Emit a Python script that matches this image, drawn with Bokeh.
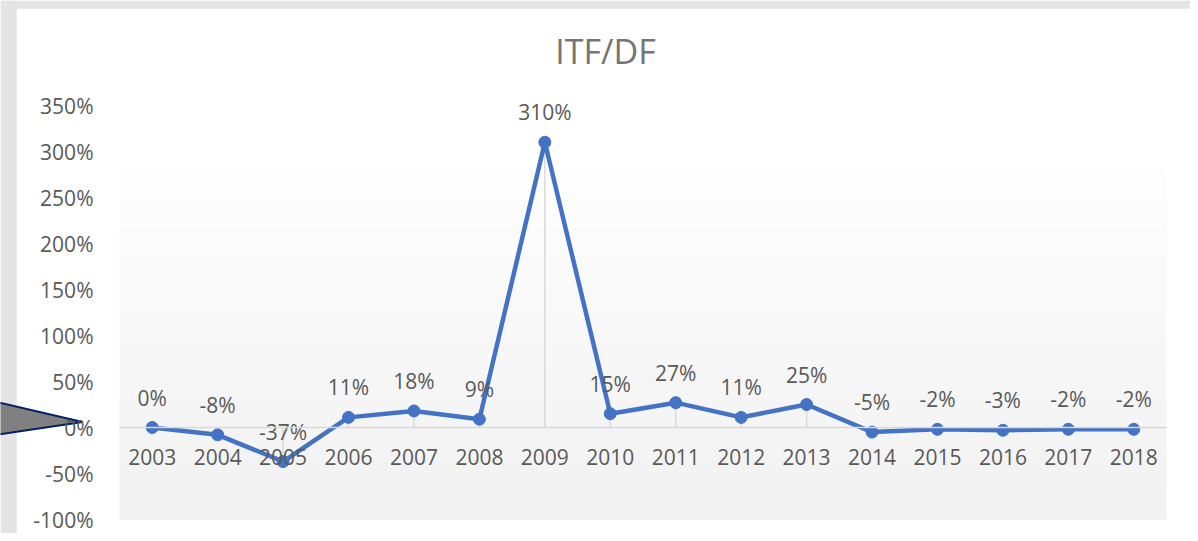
import numpy as np
from bokeh.plotting import figure
from bokeh.models import (Range1d, FixedTicker, PrintfTickFormatter, LinearAxis,
                          Label, ColumnDataSource)
from bokeh.core.properties import value
from bokeh.embed import file_html
from bokeh.resources import INLINE

# ---- data ----
years = ["2003", "2004", "2005", "2006", "2007", "2008", "2009", "2010",
         "2011", "2012", "2013", "2014", "2015", "2016", "2017", "2018"]
itf_df = [0, -8, -37, 11, 18, 9, 310, 15, 27, 11, 25, -5, -2, -3, -2, -2]
labels = [f"{v}%" for v in itf_df]
y_ticks = [-100, -50, 0, 50, 100, 150, 200, 250, 300, 350]
title_text = "ITF/DF"

FONT = "Open Sans"
TXT = "#595959"
BLUE = "#4472C4"
GREY_BG = "#E4E4E4"

# geometry of the chart in pixels (page coords)
W, H = 1190, 533
PA_L, PA_R, PA_T, PA_B = 119, 1166, 105, 519
n = len(years)
ymin, ymax = y_ticks[0], y_ticks[-1]
ux = (PA_R - PA_L) / n              # px per category
uy = (PA_B - PA_T) / (ymax - ymin)  # px per percent
x_lo = -0.5 - PA_L / ux
x_hi = (n - 0.5) + (W - PA_R) / ux
y_hi = ymax + PA_T / uy
y_lo = ymin - (H - PA_B) / uy

def px_x(px):
    return x_lo + px / ux

def px_y(py):
    return ymax - (py - PA_T) / uy

p = figure(width=W, height=H, output_backend="svg", toolbar_location=None,
           x_range=Range1d(x_lo, x_hi), y_range=Range1d(y_lo, y_hi),
           x_axis_location=None, y_axis_location=None,
           min_border_left=0, min_border_right=0, min_border_top=0, min_border_bottom=0)
p.border_fill_color = "white"
p.background_fill_color = "white"
p.outline_line_color = None
p.xgrid.visible = False
p.ygrid.visible = False

# slide background strips (grey) around the chart card
p.quad(left=x_lo, right=px_x(15), bottom=y_lo, top=y_hi,
       fill_color=GREY_BG, line_color=None)
p.quad(left=x_lo, right=x_hi, bottom=px_y(7), top=y_hi,
       fill_color=GREY_BG, line_color=None)
p.segment(x0=px_x(15.5), y0=y_lo, x1=px_x(15.5), y1=px_y(7), line_color="#D6D6D6", line_width=1)
p.segment(x0=px_x(15), y0=px_y(7.5), x1=x_hi, y1=px_y(7.5), line_color="#D6D6D6", line_width=1)

# gradient plot-area background
m = 200
col = np.concatenate([np.linspace(242, 254, int(m * 0.85)), np.full(m - int(m * 0.85), 255)])
img = np.zeros((m, 1), dtype=np.uint32)
view = img.view(dtype=np.uint8).reshape((m, 1, 4))
view[:, 0, 0] = col.astype(np.uint8)
view[:, 0, 1] = col.astype(np.uint8)
view[:, 0, 2] = col.astype(np.uint8)
view[:, 0, 3] = 255
p.image_rgba(image=[img], x=-0.5, y=ymin, dw=n, dh=ymax - ymin, level="image")

xs = list(range(n))
src = ColumnDataSource(dict(x=xs, val=itf_df, zero=[0] * n, lab=labels))

# drop lines to zero
p.segment(x0="x", y0="zero", x1="x", y1="val", source=src,
          line_color="#D9D9D9", line_width=1.5)

# y axis (inside the frame, at the plot-area edge)
yax = LinearAxis(fixed_location=-0.5, bounds=(ymin, ymax))
yax.ticker = FixedTicker(ticks=y_ticks)
yax.formatter = PrintfTickFormatter(format="%d%%")
yax.axis_line_color = None
yax.major_tick_line_color = None
yax.minor_tick_line_color = None
yax.major_label_text_font = FONT
yax.major_label_text_font_size = "21px"
yax.major_label_text_color = TXT
yax.major_label_standoff = 20
p.add_layout(yax, "left")

# x axis crossing at 0
xax = LinearAxis(fixed_location=0, bounds=(-0.5, n - 0.5))
xax.ticker = FixedTicker(ticks=xs)
xax.major_label_overrides = {i: y for i, y in enumerate(years)}
xax.axis_line_color = "#D9D9D9"
xax.axis_line_width = 1.5
xax.major_tick_line_color = None
xax.minor_tick_line_color = None
xax.major_label_text_font = FONT
xax.major_label_text_font_size = "21px"
xax.major_label_text_color = TXT
xax.major_label_standoff = 15
p.add_layout(xax, "below")

# series
p.line(x="x", y="val", source=src, line_color=BLUE, line_width=4.5)
p.scatter(x="x", y="val", source=src, size=12, fill_color=BLUE, line_color=BLUE)
p.text(x="x", y="val", text="lab", source=src, y_offset=-30,
       text_align="center", text_baseline="middle",
       text_font=value(FONT), text_font_size="21px", text_color=TXT)

# title
p.add_layout(Label(x=px_x(605), y=px_y(50), text=title_text, text_align="center",
                   text_baseline="middle", text_font=FONT, text_font_size="34px",
                   text_color="#757575"))

# grey callout arrow on the left
p.patch(x=[px_x(-2), px_x(82), px_x(-2)], y=[px_y(402), px_y(421.5), px_y(434)],
        fill_color="#808080", line_color="#002060", line_width=2)

open("out.html", "w").write(file_html(p, INLINE))
